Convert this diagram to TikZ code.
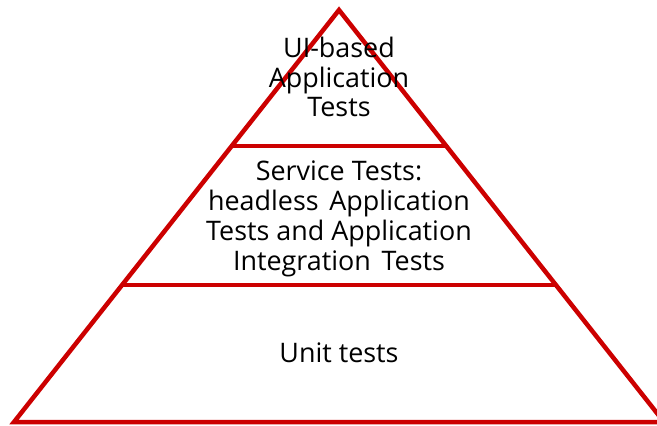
\documentclass[tikz,border=0pt]{standalone}
\usepackage{fontspec}
\setmainfont{Open Sans}
\usetikzlibrary{calc}
\definecolor{pyrred}{HTML}{CC0000}
\newcommand{\widegap}{\hspace{0.4em}}
\tikzset{
  edge/.style={draw=pyrred, line width=4.5bp, line join=miter},
  tier/.style={align=center, font=\fontsize{27}{30}\selectfont, text=black, inner sep=0pt}
}
\begin{document}
\begin{tikzpicture}[x=1bp, y=-1bp]
  \useasboundingbox (0,0) rectangle (657,425);
  % pyramid outline
  \coordinate (apex) at (339,10);
  \coordinate (bl) at (14,422);
  \coordinate (br) at (664,422);
  \draw[edge] (apex) -- (bl) -- (br) -- cycle;
  % tier separators
  \coordinate (l1) at ($(apex)!0.330!(bl)$);
  \coordinate (r1) at ($(apex)!0.330!(br)$);
  \coordinate (l2) at ($(apex)!0.6675!(bl)$);
  \coordinate (r2) at ($(apex)!0.6675!(br)$);
  \draw[edge] (l1) -- (r1);
  \draw[edge] (l2) -- (r2);
  % tier labels
  \node[tier] (top) at (339,77) {UI-based\\Application\\Tests};
  \node[tier] (mid) at (339,219) {Service Tests:\\headless\widegap Application\\Tests and Application\\Integration\widegap Tests};
  \node[tier] (base) at (339,353) {Unit tests};
\end{tikzpicture}
\end{document}
